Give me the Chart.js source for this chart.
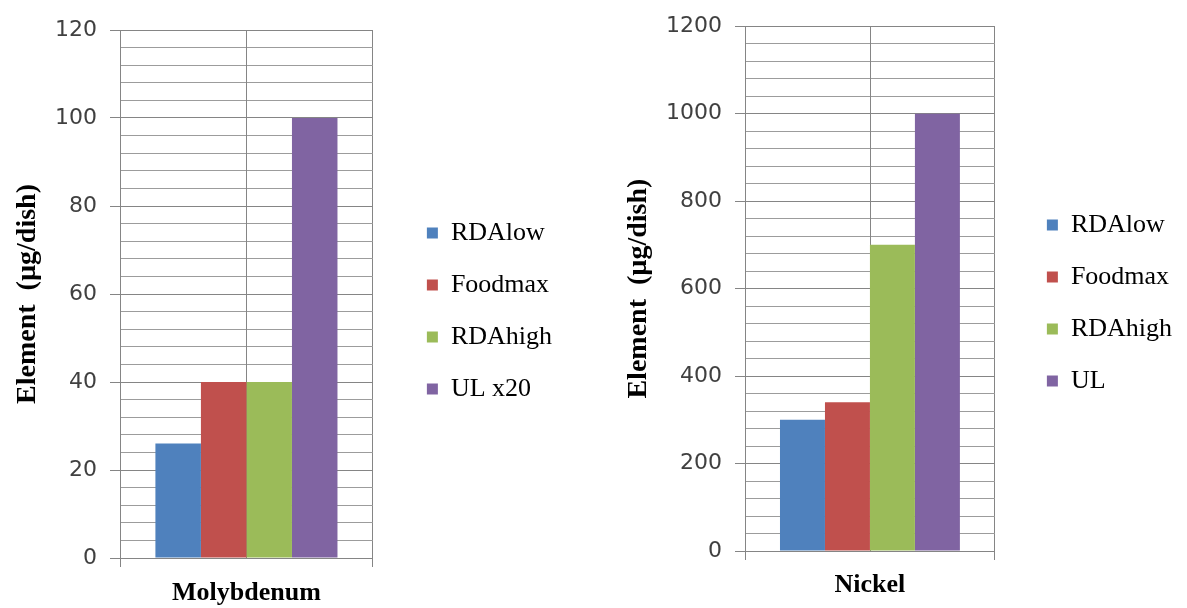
<!DOCTYPE html>
<html>
<head>
<meta charset="utf-8">
<script src="https://cdn.jsdelivr.net/npm/chart.js@4.4.0/dist/chart.umd.min.js"></script>
<style>
  html, body { margin: 0; padding: 0; background: #fff; }
  body { width: 1187px; height: 608px; position: relative; overflow: hidden; }
  canvas { position: absolute; top: 0; }
  #moChart { left: 0; }
  #niChart { left: 600px; }
</style>
</head>
<body>
<canvas id="moChart" width="595" height="608"></canvas>
<canvas id="niChart" width="587" height="608"></canvas>
<script>
// Molybdenum chart data
const moCategories = ['Molybdenum'];
const moSeries = ['RDAlow', 'Foodmax', 'RDAhigh', 'UL x20'];
const moValues = [26, 40, 40, 100];
const moMax = 120, moMajor = 20, moMinor = 4;

// Nickel chart data
const niCategories = ['Nickel'];
const niSeries = ['RDAlow', 'Foodmax', 'RDAhigh', 'UL'];
const niValues = [300, 340, 700, 1000];
const niMax = 1200, niMajor = 200, niMinor = 40;

const axisTitle = 'Element  (µg/dish)';
const barColors = ['#4F81BD', '#C0504D', '#9BBB59', '#8064A2'];

const gridMajor = '#858585';
const gridMinor = '#9c9c9c';

// vertical grid line through the middle of the category
const centerLine = {
  id: 'centerLine',
  beforeDatasetsDraw(chart) {
    const { ctx, chartArea, scales } = chart;
    const x = Math.round(scales.x.getPixelForValue(0)) + 0.5;
    ctx.save();
    ctx.strokeStyle = gridMajor;
    ctx.lineWidth = 1;
    ctx.beginPath();
    ctx.moveTo(x, chartArea.top);
    ctx.lineTo(x, chartArea.bottom);
    ctx.stroke();
    ctx.restore();
  }
};

function makeChart(id, cfg) {
  const datasets = cfg.series.map((name, i) => ({
    label: name,
    data: [cfg.values[i]],
    backgroundColor: barColors[i],
    borderWidth: 0,
    barPercentage: 1,
    categoryPercentage: 0.72
  }));

  return new Chart(document.getElementById(id), {
    type: 'bar',
    data: { labels: cfg.categories, datasets: datasets },
    plugins: [centerLine],
    options: {
      responsive: false,
      animation: false,
      devicePixelRatio: 1,
      layout: { padding: cfg.padding },
      plugins: {
        tooltip: { enabled: false },
        legend: {
          position: 'right',
          align: 'start',
          maxWidth: 300,
          // empty title only pushes the entries down to where Excel put them
          title: { display: true, text: ' ', font: { size: 10 }, padding: { top: 0, bottom: cfg.legendTop } },
          labels: {
            boxWidth: 11,
            boxHeight: 11,
            padding: 26,
            color: '#000',
            font: { family: '"Liberation Serif", serif', size: 26 }
          }
        }
      },
      scales: {
        x: {
          grid: {
            offset: true,
            color: gridMajor,
            tickLength: 9,
            tickColor: gridMajor
          },
          border: { color: gridMajor },
          ticks: {
            padding: cfg.xPad,
            color: '#000',
            font: { family: '"Liberation Serif", serif', size: 26, weight: 'bold' }
          },
          afterFit: s => { s.height = cfg.xHeight; }
        },
        y: {
          min: 0,
          max: cfg.max,
          grid: {
            color: c => (c.tick && c.tick.value % cfg.major === 0) ? gridMajor : gridMinor,
            tickLength: 10,
            tickColor: c => (c.tick && c.tick.value % cfg.major === 0) ? gridMajor : 'transparent'
          },
          border: { color: gridMajor },
          ticks: {
            stepSize: cfg.minor,
            maxTicksLimit: 100,
            autoSkip: false,
            padding: 13,
            color: '#404040',
            font: { family: '"DejaVu Sans", sans-serif', size: 22 },
            callback: v => (v % cfg.major === 0 ? String(v) : '')
          },
          title: {
            display: true,
            text: axisTitle,
            color: '#000',
            padding: { top: cfg.titlePad, bottom: 0 },
            font: { family: '"Liberation Serif", serif', size: 28, weight: 'bold' }
          },
          afterFit: s => { s.width = cfg.yWidth; }
        },
        gap: {
          type: 'linear',
          position: 'right',
          grid: { display: false },
          ticks: { display: false },
          border: { display: false },
          afterFit: s => { s.width = cfg.gap; }
        }
      }
    }
  });
}

makeChart('moChart', {
  categories: moCategories, series: moSeries, values: moValues,
  max: moMax, major: moMajor, minor: moMinor,
  padding: { top: 30, bottom: 0, left: 0, right: 33 },
  xHeight: 50, xPad: 11, yWidth: 120, titlePad: 11, gap: 28,
  legendTop: 152
});

makeChart('niChart', {
  categories: niCategories, series: niSeries, values: niValues,
  max: niMax, major: niMajor, minor: niMinor,
  padding: { top: 23, bottom: 0, left: 0, right: 5 },
  xHeight: 57, xPad: 10, yWidth: 145, titlePad: 22, gap: 26,
  legendTop: 151
});
</script>
</body>
</html>
